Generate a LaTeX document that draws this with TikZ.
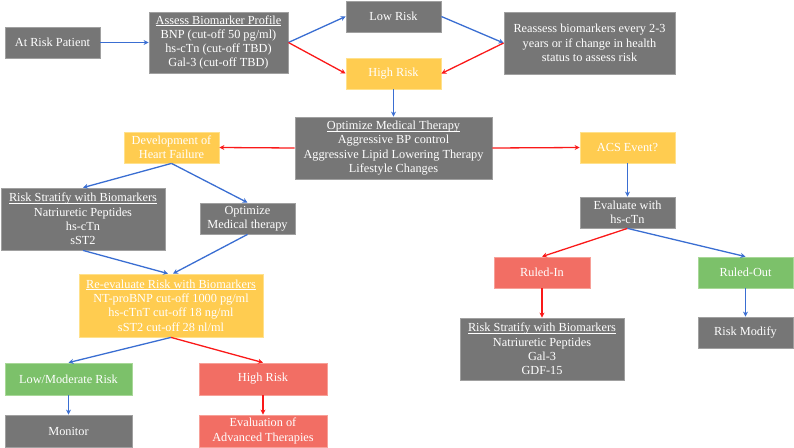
\documentclass[tikz,border=0pt]{standalone}
\usepackage{fontspec}
\setmainfont{Liberation Serif}
\newcommand\hdul[1]{\setbox0=\hbox{#1}\rlap{\rule[-1.6pt]{\wd0}{0.55pt}}\box0}
\usetikzlibrary{arrows.meta}
\definecolor{gfill}{RGB}{118,118,118}
\definecolor{gline}{RGB}{160,160,160}
\definecolor{yfill}{RGB}{255,204,80}
\definecolor{yline}{RGB}{255,225,140}
\definecolor{rfill}{RGB}{242,110,100}
\definecolor{rline}{RGB}{247,160,152}
\definecolor{nfill}{RGB}{124,193,106}
\definecolor{nline}{RGB}{168,216,152}
\definecolor{ablue}{RGB}{58,110,210}
\definecolor{ared}{RGB}{250,25,25}
\tikzset{
  boxbase/.style={rectangle, inner sep=0pt, align=center, text=white, line width=0.8pt,
    font=\fontsize{12.3}{14.3}\selectfont},
  gbox/.style={boxbase, fill=gfill, draw=gline},
  ybox/.style={boxbase, fill=yfill, draw=yline},
  rbox/.style={boxbase, fill=rfill, draw=rline},
  nbox/.style={boxbase, fill=nfill, draw=nline},
  sz/.style 2 args={minimum width=#1pt, minimum height=#2pt},
  barrow/.style={draw=ablue, line width=1.3pt, -{Stealth[length=5pt,width=5pt]}},
  rarrow/.style={draw=ared, line width=1.3pt, -{Stealth[length=5pt,width=5pt]}},
}
\begin{document}
\begin{tikzpicture}[x=1pt,y=-1pt]
\useasboundingbox (0,0) rectangle (794,447);
% top row
\node[gbox, sz={95}{31}] (arp) at (52.5,42.5) {At Risk Patient};
\node[gbox, sz={139}{61}] (abp) at (218.5,42.5) {\hdul{Assess Biomarker Profile}\\BNP (cut-off 50 pg/ml)\\hs-cTn (cut-off TBD)\\Gal-3 (cut-off TBD)};
\node[gbox, sz={95}{31}] (low) at (393.5,16.5) {Low Risk};
\node[ybox, sz={95}{31}] (high) at (393.5,73.5) {High Risk};
\node[gbox, sz={171}{62}] (reas) at (589.5,43) {Reassess biomarkers every 2-3\\years or if change in health\\status to assess risk};
\node[gbox, sz={197}{62}] (omt) at (393.5,148) {\hdul{Optimize Medical Therapy}\\Aggressive BP control\\Aggressive Lipid Lowering Therapy\\Lifestyle Changes};
% right branch
\node[ybox, sz={95}{31}] (acs) at (627.5,147.5) {ACS Event?};
\node[gbox, sz={95}{31}] (evh) at (627.5,212.5) {Evaluate with\\hs-cTn};
\node[rbox, sz={96}{31}] (rin) at (542,272.5) {Ruled-In};
\node[nbox, sz={95}{31}] (rout) at (745.5,272.5) {Ruled-Out};
\node[gbox, sz={164}{62}] (rsr) at (542,349) {\hdul{Risk Stratify with Biomarkers}\\Natriuretic Peptides\\Gal-3\\GDF-15};
\node[gbox, sz={95}{31}] (rmod) at (745.5,332.5) {Risk Modify};
% left branch
\node[ybox, sz={95}{31}] (dhf) at (171.5,147.5) {Development of\\Heart Failure};
\node[gbox, sz={164}{62}] (rsl) at (83,219) {\hdul{Risk Stratify with Biomarkers}\\Natriuretic Peptides\\hs-cTn\\sST2};
\node[gbox, sz={95}{31}] (omt2) at (247.5,218.5) {Optimize\\Medical therapy};
\node[ybox, sz={184}{63}] (reev) at (171,305.5) {\hdul{Re-evaluate Risk with Biomarkers}\\NT-proBNP cut-off 1000 pg/ml\\hs-cTnT cut-off 18 ng/ml\\sST2 cut-off 28 nl/ml};
\node[nbox, sz={127}{32}] (lmr) at (68.5,379) {Low/Moderate Risk};
\node[rbox, sz={128}{32}] (hr2) at (263,379) {High Risk};
\node[gbox, sz={127}{32}] (mon) at (68.5,431) {Monitor};
\node[rbox, sz={128}{32}] (eat) at (263,431) {Evaluation of\\Advanced Therapies};
% connectors
\draw[barrow] (arp.east) -- (abp.west);
\draw[barrow] (abp.east) -- (low.west);
\draw[rarrow] (abp.east) -- (high.west);
\draw[barrow] (low.east) -- (reas.west);
\draw[rarrow] (reas.west) -- (high.east);
\draw[barrow] (high.south) -- (omt.north);
\draw[rarrow] (omt.west) -- (dhf.east);
\draw[rarrow] (omt.east) -- (acs.west);
\draw[barrow] (acs.south) -- (evh.north);
\draw[rarrow] (evh.south) -- (rin.north);
\draw[barrow] (evh.south) -- (rout.north);
\draw[rarrow] (rin.south) -- (rsr.north);
\draw[barrow] (rout.south) -- (rmod.north);
\draw[barrow] (dhf.south) -- (rsl.north);
\draw[barrow] (dhf.south) -- (omt2.north);
\draw[barrow] (rsl.south) -- ([xshift=-3pt]reev.north);
\draw[barrow] (omt2.south) -- ([xshift=2pt]reev.north);
\draw[barrow] (reev.south) -- (lmr.north);
\draw[rarrow] (reev.south) -- (hr2.north);
\draw[barrow] (lmr.south) -- (mon.north);
\draw[rarrow] (hr2.south) -- (eat.north);
\end{tikzpicture}
\end{document}
